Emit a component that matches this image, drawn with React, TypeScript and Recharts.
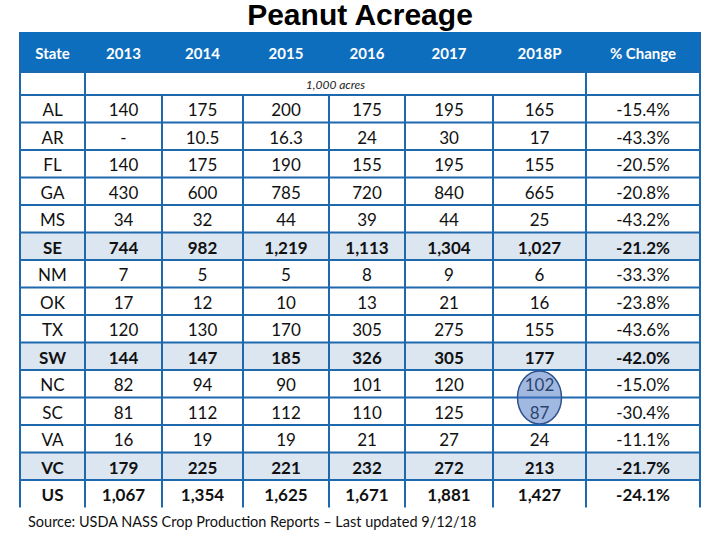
import React from 'react';
import { ScatterChart, Scatter, XAxis, YAxis, ReferenceArea, ReferenceLine } from 'recharts';

// table content
const columns = ['State', '2013', '2014', '2015', '2016', '2017', '2018P', '% Change'];
const states = ['AL', 'AR', 'FL', 'GA', 'MS', 'SE', 'NM', 'OK', 'TX', 'SW', 'NC', 'SC', 'VA', 'VC', 'US'];
const acres2013 = [140, null, 140, 430, 34, 744, 7, 17, 120, 144, 82, 81, 16, 179, 1067];
const acres2014 = [175, 10.5, 175, 600, 32, 982, 5, 12, 130, 147, 94, 112, 19, 225, 1354];
const acres2015 = [200, 16.3, 190, 785, 44, 1219, 5, 10, 170, 185, 90, 112, 19, 221, 1625];
const acres2016 = [175, 24, 155, 720, 39, 1113, 8, 13, 305, 326, 101, 110, 21, 232, 1671];
const acres2017 = [195, 30, 195, 840, 44, 1304, 9, 21, 275, 305, 120, 125, 27, 272, 1881];
const acres2018P = [165, 17, 155, 665, 25, 1027, 6, 16, 155, 177, 102, 87, 24, 213, 1427];
const pctChange = [-15.4, -43.3, -20.5, -20.8, -43.2, -21.2, -33.3, -23.8, -43.6, -42.0, -15.0, -30.4, -11.1, -21.7, -24.1];
const regionRows = ['SE', 'SW', 'VC'];
const totalRows = ['SE', 'SW', 'VC', 'US'];
const highlightStates = ['NC', 'SC'];
const highlightColumn = '2018P';
const unitLabel = '1,000 acres';

// layout
const colWidths = [65, 77, 81, 86, 76, 88, 93, 114];
const HEADER_H = 40;
const UNIT_H = 23;
const ROW_H = 27.5;
const TABLE_W = colWidths.reduce((s, w) => s + w, 0);
const TABLE_H = HEADER_H + UNIT_H + ROW_H * states.length;

const BLUE = '#0E6EBE';
const GRID = '#1E69AE';
const SHADE = '#DCE6F1';
const FONT = 'Lato, "Open Sans", sans-serif';

const colEdges = colWidths.reduce<number[]>((acc, w) => [...acc, acc[acc.length - 1] + w], [0]);
const colCenter = (i: number) => colEdges[i] + colWidths[i] / 2;
const rowTop = (r: number) => HEADER_H + UNIT_H + r * ROW_H;
const rowCenter = (r: number) => rowTop(r) + ROW_H / 2;

const fmt = (v: number | null) =>
    v === null ? '-' : Number.isInteger(v) ? v.toLocaleString('en-US') : v.toFixed(1);

const yearSeries = [acres2013, acres2014, acres2015, acres2016, acres2017, acres2018P];

type Cell = { x: number; y: number; label: string; kind: 'header' | 'unit' | 'body'; bold?: boolean };

const cells: Cell[] = [];
columns.forEach((c, i) => cells.push({ x: colCenter(i), y: HEADER_H / 2, label: c, kind: 'header' }));
cells.push({ x: (colEdges[1] + colEdges[7]) / 2, y: HEADER_H + UNIT_H / 2, label: unitLabel, kind: 'unit' });
states.forEach((s, r) => {
    const bold = totalRows.includes(s);
    cells.push({ x: colCenter(0), y: rowCenter(r), label: s, kind: 'body', bold });
    yearSeries.forEach((series, j) => {
        cells.push({ x: colCenter(j + 1), y: rowCenter(r), label: fmt(series[r]), kind: 'body', bold });
    });
    cells.push({ x: colCenter(7), y: rowCenter(r), label: `${pctChange[r].toFixed(1)}%`, kind: 'body', bold });
});

const hlRows = highlightStates.map(s => states.indexOf(s));
const highlight = [{
    x: colCenter(columns.indexOf(highlightColumn)),
    y: (rowCenter(hlRows[0]) + rowCenter(hlRows[hlRows.length - 1])) / 2,
}];

const renderCell = (props: any) => {
    const { cx, cy, payload } = props;
    if (payload.kind === 'header') {
        return (
            <text x={cx} y={cy + 1} textAnchor="middle" dominantBaseline="central"
                fontFamily={FONT} fontSize={15} fontWeight="bold" fill="#fff">{payload.label}</text>
        );
    }
    if (payload.kind === 'unit') {
        return (
            <text x={cx} y={cy + 1} textAnchor="middle" dominantBaseline="central"
                fontFamily={FONT} fontSize={12} fontStyle="italic" fill="#222">{payload.label}</text>
        );
    }
    return (
        <text x={cx} y={cy + 1} textAnchor="middle" dominantBaseline="central"
            fontFamily={FONT} fontSize={17} fontWeight={payload.bold ? 'bold' : 'normal'} fill="#111">{payload.label}</text>
    );
};

const renderEllipse = (props: any) => (
    <ellipse cx={props.cx} cy={props.cy} rx={22} ry={26.5}
        fill="rgba(68,114,196,0.5)" stroke="#2F528F" strokeWidth={1.5} />
);

export default function App() {
    const innerEdges = colEdges.slice(1, -1);
    const unitBreaks = [colEdges[1], colEdges[7]];
    return (
        <div style={{ position: 'relative', width: 720, height: 540, background: '#fff', overflow: 'hidden' }}>
            <style>{'body{margin:0}'}</style>
            <div style={{
                position: 'absolute', top: -1, left: 0, width: 720, textAlign: 'center',
                fontFamily: '"Liberation Sans", Arial, sans-serif', fontWeight: 'bold', fontSize: 30, lineHeight: '31px', color: '#000',
            }}>Peanut Acreage</div>
            <ScatterChart width={720} height={540} margin={{ top: 32, right: 20, bottom: 540 - 32 - TABLE_H, left: 20 }}>
                <XAxis type="number" dataKey="x" domain={[0, TABLE_W]} hide />
                <YAxis type="number" dataKey="y" domain={[0, TABLE_H]} reversed hide />

                <ReferenceArea x1={0} x2={TABLE_W} y1={0} y2={HEADER_H} fill={BLUE} fillOpacity={1} stroke="none" />
                {regionRows.map(s => {
                    const r = states.indexOf(s);
                    return (
                        <ReferenceArea key={s} x1={0} x2={TABLE_W} y1={rowTop(r)} y2={rowTop(r) + ROW_H}
                            fill={SHADE} fillOpacity={1} stroke="none" />
                    );
                })}

                {states.slice(0, -1).map((s, r) => (
                    <ReferenceLine key={`h${s}`} segment={[{ x: 0, y: rowTop(r + 1) }, { x: TABLE_W, y: rowTop(r + 1) }]}
                        stroke={GRID} strokeWidth={2} />
                ))}
                <ReferenceLine segment={[{ x: 0, y: HEADER_H }, { x: TABLE_W, y: HEADER_H }]} stroke={GRID} strokeWidth={2} />
                <ReferenceLine segment={[{ x: 0, y: rowTop(0) }, { x: TABLE_W, y: rowTop(0) }]} stroke={GRID} strokeWidth={2} />
                {[0, TABLE_W].map(x => (
                    <ReferenceLine key={`o${x}`} segment={[{ x, y: 0 }, { x, y: TABLE_H }]} stroke={GRID} strokeWidth={2} />
                ))}
                {innerEdges.map(x => (
                    <ReferenceLine key={`v${x}`}
                        segment={[{ x, y: unitBreaks.includes(x) ? HEADER_H : rowTop(0) }, { x, y: TABLE_H }]}
                        stroke={GRID} strokeWidth={2} />
                ))}

                <Scatter data={cells} shape={renderCell} isAnimationActive={false} />
                <Scatter data={highlight} shape={renderEllipse} isAnimationActive={false} />
            </ScatterChart>
            <div style={{
                position: 'absolute', top: 515, left: 28, fontFamily: FONT, fontSize: 14.5, lineHeight: '14px', color: '#111', whiteSpace: 'nowrap',
            }}>Source: USDA NASS Crop Production Reports – Last updated 9/12/18</div>
        </div>
    );
}
